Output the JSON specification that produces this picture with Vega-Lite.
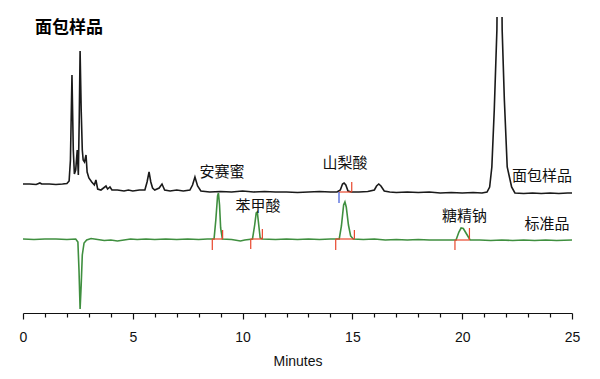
{
  "$schema": "https://vega.github.io/schema/vega-lite/v6.json",
  "width": 549,
  "height": 296,
  "autosize": {"type": "none"},
  "padding": {"left": 23, "top": 17, "right": 28, "bottom": 66},
  "background": "white",
  "config": {"view": {"stroke": null}},
  "datasets": {
    "trace": [
      {"series": "sample", "t": 0.0, "v": 129}, {"series": "sample", "t": 0.3, "v": 129}, {"series": "sample", "t": 0.6, "v": 128.5}, {"series": "sample", "t": 0.77, "v": 130}, {"series": "sample", "t": 0.85, "v": 129}, {"series": "sample", "t": 1.2, "v": 129}, {"series": "sample", "t": 1.5, "v": 128.5}, {"series": "sample", "t": 1.8, "v": 129}, {"series": "sample", "t": 2.0, "v": 129.5}, {"series": "sample", "t": 2.1, "v": 132}, {"series": "sample", "t": 2.16, "v": 153}, {"series": "sample", "t": 2.23, "v": 238}, {"series": "sample", "t": 2.29, "v": 163}, {"series": "sample", "t": 2.34, "v": 139}, {"series": "sample", "t": 2.4, "v": 143}, {"series": "sample", "t": 2.47, "v": 163}, {"series": "sample", "t": 2.52, "v": 138}, {"series": "sample", "t": 2.56, "v": 193}, {"series": "sample", "t": 2.6, "v": 262}, {"series": "sample", "t": 2.65, "v": 203}, {"series": "sample", "t": 2.7, "v": 163}, {"series": "sample", "t": 2.74, "v": 153}, {"series": "sample", "t": 2.8, "v": 151}, {"series": "sample", "t": 2.87, "v": 158}, {"series": "sample", "t": 2.92, "v": 141}, {"series": "sample", "t": 3.0, "v": 135}, {"series": "sample", "t": 3.13, "v": 131}, {"series": "sample", "t": 3.25, "v": 128}, {"series": "sample", "t": 3.32, "v": 133}, {"series": "sample", "t": 3.4, "v": 124}, {"series": "sample", "t": 3.55, "v": 123}, {"series": "sample", "t": 3.78, "v": 127}, {"series": "sample", "t": 3.85, "v": 124}, {"series": "sample", "t": 3.96, "v": 126}, {"series": "sample", "t": 4.05, "v": 123}, {"series": "sample", "t": 4.3, "v": 123}, {"series": "sample", "t": 4.6, "v": 122}, {"series": "sample", "t": 4.8, "v": 123}, {"series": "sample", "t": 5.0, "v": 122}, {"series": "sample", "t": 5.3, "v": 123}, {"series": "sample", "t": 5.55, "v": 123}, {"series": "sample", "t": 5.65, "v": 131}, {"series": "sample", "t": 5.74, "v": 141}, {"series": "sample", "t": 5.82, "v": 131}, {"series": "sample", "t": 5.9, "v": 125}, {"series": "sample", "t": 6.0, "v": 123}, {"series": "sample", "t": 6.2, "v": 125}, {"series": "sample", "t": 6.33, "v": 129}, {"series": "sample", "t": 6.45, "v": 123}, {"series": "sample", "t": 6.7, "v": 122}, {"series": "sample", "t": 7.0, "v": 123}, {"series": "sample", "t": 7.3, "v": 122}, {"series": "sample", "t": 7.6, "v": 123}, {"series": "sample", "t": 7.72, "v": 128}, {"series": "sample", "t": 7.83, "v": 136}, {"series": "sample", "t": 7.95, "v": 127}, {"series": "sample", "t": 8.1, "v": 122}, {"series": "sample", "t": 8.5, "v": 121}, {"series": "sample", "t": 9.0, "v": 121.5}, {"series": "sample", "t": 9.5, "v": 121}, {"series": "sample", "t": 10.0, "v": 122}, {"series": "sample", "t": 10.5, "v": 121}, {"series": "sample", "t": 11.0, "v": 121.5}, {"series": "sample", "t": 11.5, "v": 121}, {"series": "sample", "t": 12.0, "v": 121}, {"series": "sample", "t": 12.5, "v": 120.5}, {"series": "sample", "t": 13.0, "v": 121}, {"series": "sample", "t": 13.5, "v": 121.5}, {"series": "sample", "t": 14.0, "v": 121}, {"series": "sample", "t": 14.3, "v": 121}, {"series": "sample", "t": 14.45, "v": 123}, {"series": "sample", "t": 14.55, "v": 129}, {"series": "sample", "t": 14.62, "v": 130}, {"series": "sample", "t": 14.7, "v": 128}, {"series": "sample", "t": 14.8, "v": 122}, {"series": "sample", "t": 14.95, "v": 121}, {"series": "sample", "t": 15.3, "v": 121}, {"series": "sample", "t": 15.7, "v": 121.5}, {"series": "sample", "t": 16.0, "v": 123}, {"series": "sample", "t": 16.1, "v": 127}, {"series": "sample", "t": 16.2, "v": 129}, {"series": "sample", "t": 16.3, "v": 127}, {"series": "sample", "t": 16.45, "v": 122}, {"series": "sample", "t": 16.7, "v": 121}, {"series": "sample", "t": 17.0, "v": 120.5}, {"series": "sample", "t": 17.5, "v": 121}, {"series": "sample", "t": 18.0, "v": 120.5}, {"series": "sample", "t": 18.5, "v": 121}, {"series": "sample", "t": 19.0, "v": 120}, {"series": "sample", "t": 19.5, "v": 120.5}, {"series": "sample", "t": 20.0, "v": 120}, {"series": "sample", "t": 20.5, "v": 120.5}, {"series": "sample", "t": 20.9, "v": 120}, {"series": "sample", "t": 21.13, "v": 121}, {"series": "sample", "t": 21.25, "v": 126}, {"series": "sample", "t": 21.35, "v": 146}, {"series": "sample", "t": 21.46, "v": 203}, {"series": "sample", "t": 21.58, "v": 283}, {"series": "sample", "t": 21.7, "v": 560}, {"series": "sample", "t": 21.82, "v": 283}, {"series": "sample", "t": 21.92, "v": 213}, {"series": "sample", "t": 22.05, "v": 146}, {"series": "sample", "t": 22.25, "v": 126}, {"series": "sample", "t": 22.4, "v": 120}, {"series": "sample", "t": 22.8, "v": 119.5}, {"series": "sample", "t": 23.2, "v": 120}, {"series": "sample", "t": 23.6, "v": 119.5}, {"series": "sample", "t": 24.0, "v": 120}, {"series": "sample", "t": 24.4, "v": 119.5}, {"series": "sample", "t": 24.8, "v": 120}, {"series": "sample", "t": 25.0, "v": 120},
      {"series": "standard", "t": 0.0, "v": 74}, {"series": "standard", "t": 0.5, "v": 73.5}, {"series": "standard", "t": 1.0, "v": 74}, {"series": "standard", "t": 1.5, "v": 74}, {"series": "standard", "t": 2.0, "v": 73.5}, {"series": "standard", "t": 2.4, "v": 74}, {"series": "standard", "t": 2.5, "v": 71}, {"series": "standard", "t": 2.55, "v": 43}, {"series": "standard", "t": 2.6, "v": 4}, {"series": "standard", "t": 2.65, "v": 28}, {"series": "standard", "t": 2.7, "v": 58}, {"series": "standard", "t": 2.78, "v": 70}, {"series": "standard", "t": 2.9, "v": 73}, {"series": "standard", "t": 3.1, "v": 74.5}, {"series": "standard", "t": 3.4, "v": 73.5}, {"series": "standard", "t": 3.7, "v": 72.5}, {"series": "standard", "t": 4.0, "v": 73}, {"series": "standard", "t": 4.3, "v": 72}, {"series": "standard", "t": 4.6, "v": 73}, {"series": "standard", "t": 4.9, "v": 74}, {"series": "standard", "t": 5.2, "v": 73.5}, {"series": "standard", "t": 5.6, "v": 74}, {"series": "standard", "t": 6.0, "v": 73.5}, {"series": "standard", "t": 6.5, "v": 74}, {"series": "standard", "t": 7.0, "v": 73.5}, {"series": "standard", "t": 7.5, "v": 74}, {"series": "standard", "t": 8.0, "v": 73.5}, {"series": "standard", "t": 8.4, "v": 74}, {"series": "standard", "t": 8.7, "v": 74}, {"series": "standard", "t": 8.78, "v": 93}, {"series": "standard", "t": 8.86, "v": 117}, {"series": "standard", "t": 8.9, "v": 120}, {"series": "standard", "t": 8.95, "v": 108}, {"series": "standard", "t": 9.0, "v": 85}, {"series": "standard", "t": 9.08, "v": 74}, {"series": "standard", "t": 9.5, "v": 73.5}, {"series": "standard", "t": 9.9, "v": 72}, {"series": "standard", "t": 10.1, "v": 73}, {"series": "standard", "t": 10.45, "v": 74}, {"series": "standard", "t": 10.55, "v": 88}, {"series": "standard", "t": 10.62, "v": 100}, {"series": "standard", "t": 10.67, "v": 101}, {"series": "standard", "t": 10.72, "v": 91}, {"series": "standard", "t": 10.8, "v": 75}, {"series": "standard", "t": 10.9, "v": 74}, {"series": "standard", "t": 11.5, "v": 73.5}, {"series": "standard", "t": 12.0, "v": 74}, {"series": "standard", "t": 12.5, "v": 73.5}, {"series": "standard", "t": 13.0, "v": 74}, {"series": "standard", "t": 13.5, "v": 73.5}, {"series": "standard", "t": 14.0, "v": 74}, {"series": "standard", "t": 14.4, "v": 74}, {"series": "standard", "t": 14.5, "v": 87}, {"series": "standard", "t": 14.6, "v": 108}, {"series": "standard", "t": 14.66, "v": 111}, {"series": "standard", "t": 14.72, "v": 106}, {"series": "standard", "t": 14.82, "v": 88}, {"series": "standard", "t": 14.92, "v": 77}, {"series": "standard", "t": 15.04, "v": 74}, {"series": "standard", "t": 15.5, "v": 73.5}, {"series": "standard", "t": 16.0, "v": 74}, {"series": "standard", "t": 16.5, "v": 73}, {"series": "standard", "t": 17.0, "v": 73.5}, {"series": "standard", "t": 17.5, "v": 73}, {"series": "standard", "t": 18.0, "v": 73.5}, {"series": "standard", "t": 18.5, "v": 73}, {"series": "standard", "t": 19.0, "v": 73}, {"series": "standard", "t": 19.5, "v": 73}, {"series": "standard", "t": 19.72, "v": 73}, {"series": "standard", "t": 19.85, "v": 81}, {"series": "standard", "t": 19.95, "v": 85}, {"series": "standard", "t": 20.05, "v": 84.5}, {"series": "standard", "t": 20.2, "v": 79}, {"series": "standard", "t": 20.36, "v": 73}, {"series": "standard", "t": 20.8, "v": 73}, {"series": "standard", "t": 21.3, "v": 72.5}, {"series": "standard", "t": 21.8, "v": 73}, {"series": "standard", "t": 22.3, "v": 72.5}, {"series": "standard", "t": 22.8, "v": 73}, {"series": "standard", "t": 23.3, "v": 72.5}, {"series": "standard", "t": 23.8, "v": 73}, {"series": "standard", "t": 24.3, "v": 72.5}, {"series": "standard", "t": 25.0, "v": 73}
    ],
    "integration": [
      {"series": "standard", "t0": 8.62, "t1": 9.09, "base": 74, "low": 63, "high": 83},
      {"series": "standard", "t0": 10.37, "t1": 10.9, "base": 74, "low": 64, "high": 84},
      {"series": "standard", "t0": 14.24, "t1": 15.09, "base": 74, "low": 63, "high": 83},
      {"series": "standard", "t0": 19.67, "t1": 20.33, "base": 73, "low": 63, "high": 85},
      {"series": "sample", "t0": 14.39, "t1": 14.97, "base": 121, "low": 110, "high": 131}
    ],
    "labels": [
      {"t": 9.06, "v": 141, "text": "安赛蜜"},
      {"t": 10.7, "v": 107, "text": "苯甲酸"},
      {"t": 14.66, "v": 150, "text": "山梨酸"},
      {"t": 20.1, "v": 97, "text": "糖精钠"},
      {"t": 23.63, "v": 137, "text": "面包样品"},
      {"t": 23.86, "v": 89, "text": "标准品"}
    ]
  },
  "layer": [
    {
      "data": {"name": "trace"},
      "mark": {"type": "line", "clip": true, "strokeWidth": 1.6, "interpolate": "linear"},
      "encoding": {
        "x": {
          "field": "t", "type": "quantitative",
          "scale": {"domain": [0, 25], "nice": false},
          "axis": {
            "orient": "bottom",
            "title": "Minutes",
            "values": [0, 5, 10, 15, 20, 25],
            "labelOverlap": false,
            "labelFlush": false,
            "labelFont": "Liberation Sans", "labelFontSize": 14, "labelColor": "#111",
            "labelPadding": 11,
            "titleFont": "Liberation Sans", "titleFontSize": 14, "titleFontWeight": "normal", "titleColor": "#111",
            "titlePadding": 10,
            "domainColor": "#111", "domainWidth": 1.2,
            "tickColor": "#111", "tickWidth": 1.2, "tickSize": 6,
            "grid": false
          }
        },
        "y": {
          "field": "v", "type": "quantitative",
          "scale": {"domain": [0, 296], "nice": false, "zero": false},
          "axis": null
        },
        "color": {
          "field": "series", "type": "nominal",
          "scale": {"domain": ["sample", "standard"], "range": ["#1a1a1a", "#3f8f3f"]},
          "legend": null
        },
        "detail": {"field": "series"}
      }
    },
    {
      "data": {"name": "integration"},
      "mark": {"type": "rule", "color": "#e8462c", "strokeWidth": 1.2},
      "encoding": {
        "x": {
          "field": "t0", "type": "quantitative",
          "axis": {
            "orient": "bottom",
            "title": null,
            "values": [1,2,3,4,6,7,8,9,11,12,13,14,16,17,18,19,21,22,23,24],
            "labels": false,
            "domain": false,
            "grid": false,
            "tickColor": "#111", "tickWidth": 1.2, "tickSize": 4
          }
        },
        "x2": {"field": "t1"},
        "y": {"field": "base", "type": "quantitative"}
      }
    },
    {
      "data": {"name": "integration"},
      "mark": {"type": "rule", "strokeWidth": 1.2},
      "encoding": {
        "x": {"field": "t0", "type": "quantitative", "axis": null},
        "y": {"field": "base", "type": "quantitative"},
        "y2": {"field": "low"},
        "color": {
          "field": "series", "type": "nominal",
          "scale": {"domain": ["sample", "standard"], "range": ["#3a56d8", "#e8462c"]},
          "legend": null
        }
      }
    },
    {
      "data": {"name": "integration"},
      "mark": {"type": "rule", "color": "#e8462c", "strokeWidth": 1.2},
      "encoding": {
        "x": {"field": "t1", "type": "quantitative", "axis": null},
        "y": {"field": "base", "type": "quantitative"},
        "y2": {"field": "high"}
      }
    },
    {
      "data": {"name": "labels"},
      "mark": {"type": "text", "font": "Noto Sans CJK SC", "fontSize": 15, "color": "#111", "align": "center", "baseline": "middle"},
      "encoding": {
        "x": {"field": "t", "type": "quantitative", "axis": null},
        "y": {"field": "v", "type": "quantitative"},
        "text": {"field": "text"}
      }
    },
    {
      "data": {"values": [{"t": 2.09, "v": 285, "text": "面包样品"}]},
      "mark": {"type": "text", "font": "Noto Sans CJK SC", "fontSize": 17, "fontWeight": "bold", "color": "#000", "align": "center", "baseline": "middle"},
      "encoding": {
        "x": {"field": "t", "type": "quantitative", "axis": null},
        "y": {"field": "v", "type": "quantitative"},
        "text": {"field": "text"}
      }
    }
  ],
  "resolve": {"scale": {"color": "independent"}, "axis": {"x": "independent"}}
}
